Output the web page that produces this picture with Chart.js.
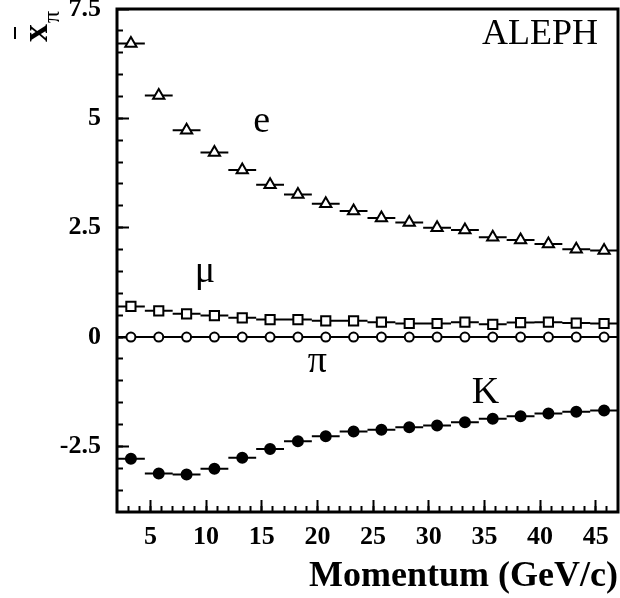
<!DOCTYPE html>
<html>
<head>
<meta charset="utf-8">
<script src="https://cdn.jsdelivr.net/npm/chart.js@4.4.1/dist/chart.umd.min.js"></script>
<style>
  html, body { margin: 0; padding: 0; background: #fff; }
  #wrap { width: 620px; height: 598px; position: relative; }
</style>
</head>
<body>
<div id="wrap"><canvas id="chart"></canvas></div>
<script>
// bin centres (GeV/c), 18 bins of 2.5 GeV from 2 to 47
const momentum = [3.25, 5.75, 8.25, 10.75, 13.25, 15.75, 18.25, 20.75, 23.25, 25.75, 28.25, 30.75, 33.25, 35.75, 38.25, 40.75, 43.25, 45.75];
const binHalfWidth = 1.25;

const electron = [6.71, 5.52, 4.73, 4.22, 3.82, 3.48, 3.26, 3.05, 2.88, 2.72, 2.62, 2.50, 2.45, 2.28, 2.22, 2.13, 2.01, 1.98];
const muon = [0.70, 0.60, 0.53, 0.49, 0.44, 0.40, 0.40, 0.37, 0.37, 0.34, 0.31, 0.31, 0.34, 0.29, 0.33, 0.34, 0.32, 0.31];
const pion = [0, 0, 0, 0, 0, 0, 0, 0, 0, 0, 0, 0, 0, 0, 0, 0, 0, 0];
const kaon = [-2.78, -3.12, -3.14, -3.01, -2.76, -2.56, -2.38, -2.27, -2.16, -2.12, -2.06, -2.02, -1.95, -1.87, -1.81, -1.75, -1.71, -1.68];

const xTicks = [5, 10, 15, 20, 25, 30, 35, 40, 45];
const yTicks = [-2.5, 0, 2.5, 5, 7.5];

const xMinorTicks = [];
for (let v = 3; v <= 46; v++) xMinorTicks.push(v);
const yMinorTicks = [];
for (let v = -3.5; v <= 7; v += 0.5) yMinorTicks.push(v);

const serif = '"Liberation Serif", "Times New Roman", Times, serif';

function markers(values) {
    return momentum.map((m, i) => ({ x: m, y: values[i] }));
}

// horizontal bin-width bars, broken between bins
function binBars(values) {
    const pts = [];
    momentum.forEach((m, i) => {
        pts.push({ x: m - binHalfWidth, y: values[i] });
        pts.push({ x: m + binHalfWidth, y: values[i] });
        pts.push({ x: m + binHalfWidth, y: null });
    });
    return pts;
}

function barSet(values) {
    return {
        type: 'line',
        data: binBars(values),
        borderColor: '#000',
        borderWidth: 2,
        pointRadius: 0,
        spanGaps: false,
        fill: false,
        order: 2,
    };
}

function markerSet(values, style, radius, fill) {
    return {
        type: 'scatter',
        data: markers(values),
        pointStyle: style,
        pointRadius: radius,
        pointBorderWidth: 2,
        borderColor: '#000',
        backgroundColor: fill,
        order: 1,
    };
}

const decor = {
    id: 'decor',
    afterDraw(chart, args, opts) {
        const { ctx, chartArea: a, scales } = chart;
        ctx.save();
        ctx.strokeStyle = '#000';
        ctx.lineWidth = 3;
        ctx.strokeRect(a.left, a.top, a.right - a.left, a.bottom - a.top);

        ctx.fillStyle = '#000';
        ctx.textAlign = 'center';
        ctx.textBaseline = 'alphabetic';
        opts.labels.forEach(l => {
            ctx.font = l.size + 'px ' + serif;
            ctx.fillText(l.text, scales.x.getPixelForValue(l.x), scales.y.getPixelForValue(l.y));
        });

        // y axis title: x-bar with subscript pi, rotated
        ctx.translate(47, 42);
        ctx.rotate(-Math.PI / 2);
        ctx.textAlign = 'left';
        ctx.font = 'bold 36px ' + serif;
        ctx.fillText('x', 0, 0);
        ctx.fillRect(3, -33, 12, 2);
        ctx.font = '24px ' + serif;
        ctx.fillText('π', 19, 12);
        ctx.restore();
    }
};

function noPad(s) {
    s.paddingTop = 0; s.paddingBottom = 0; s.paddingLeft = 0; s.paddingRight = 0;
}

new Chart(document.getElementById('chart'), {
    type: 'scatter',
    data: {
        datasets: [
            markerSet(electron, 'triangle', 6.5, '#fff'),
            markerSet(muon, 'rect', 6.5, '#fff'),
            markerSet(pion, 'circle', 4.5, '#fff'),
            markerSet(kaon, 'circle', 5, '#000'),
            barSet(electron),
            barSet(muon),
            barSet(pion),
            barSet(kaon),
        ]
    },
    options: {
        responsive: true,
        maintainAspectRatio: false,
        animation: false,
        events: [],
        layout: { autoPadding: false, padding: { top: 9, right: 2, left: 0, bottom: 0 } },
        plugins: {
            legend: { display: false },
            tooltip: { enabled: false },
            decor: {
                labels: [
                    { text: 'ALEPH', x: 40.0, y: 6.70, size: 36 },
                    { text: 'e', x: 15.0, y: 4.69, size: 38 },
                    { text: 'μ', x: 9.9, y: 1.26, size: 38 },
                    { text: 'π', x: 20.0, y: -0.80, size: 38 },
                    { text: 'K', x: 35.1, y: -1.51, size: 38 },
                ]
            }
        },
        scales: {
            xMinor: {
                type: 'linear', position: 'bottom', weight: 0, min: 2, max: 47,
                afterBuildTicks: s => { s.ticks = xMinorTicks.map(v => ({ value: v })); },
                ticks: { display: false },
                grid: { drawOnChartArea: false, tickLength: -6, tickWidth: 2, tickColor: '#000' },
                border: { display: false },
                afterFit: s => { s.height = 0; noPad(s); }
            },
            x: {
                type: 'linear', position: 'bottom', weight: 1, min: 2, max: 47,
                afterBuildTicks: s => { s.ticks = xTicks.map(v => ({ value: v })); },
                ticks: {
                    autoSkip: false, maxRotation: 0, padding: 22, color: '#000',
                    font: { family: serif, size: 26, weight: 'bold' },
                    callback: v => String(v)
                },
                grid: { drawOnChartArea: false, tickLength: -12, tickWidth: 2, tickColor: '#000' },
                border: { display: false },
                title: {
                    display: true, text: 'Momentum (GeV/c)', align: 'end', color: '#000',
                    font: { family: serif, size: 36, weight: 'bold' },
                    padding: { top: 0, bottom: 0 }
                },
                afterFit: s => { s.height = 86; noPad(s); }
            },
            yMinor: {
                type: 'linear', position: 'left', weight: 0, min: -4, max: 7.5,
                afterBuildTicks: s => { s.ticks = yMinorTicks.map(v => ({ value: v })); },
                ticks: { display: false },
                grid: { drawOnChartArea: false, tickLength: -6, tickWidth: 2, tickColor: '#000' },
                border: { display: false },
                afterFit: s => { s.width = 0; noPad(s); }
            },
            y: {
                type: 'linear', position: 'left', weight: 1, min: -4, max: 7.5,
                afterBuildTicks: s => { s.ticks = yTicks.map(v => ({ value: v })); },
                ticks: {
                    autoSkip: false, padding: 28, color: '#000',
                    font: { family: serif, size: 26, weight: 'bold' },
                    callback: v => String(v)
                },
                grid: { drawOnChartArea: false, tickLength: -12, tickWidth: 2, tickColor: '#000' },
                border: { display: false },
                afterFit: s => { s.width = 117; noPad(s); }
            }
        }
    },
    plugins: [decor]
});
</script>
</body>
</html>
